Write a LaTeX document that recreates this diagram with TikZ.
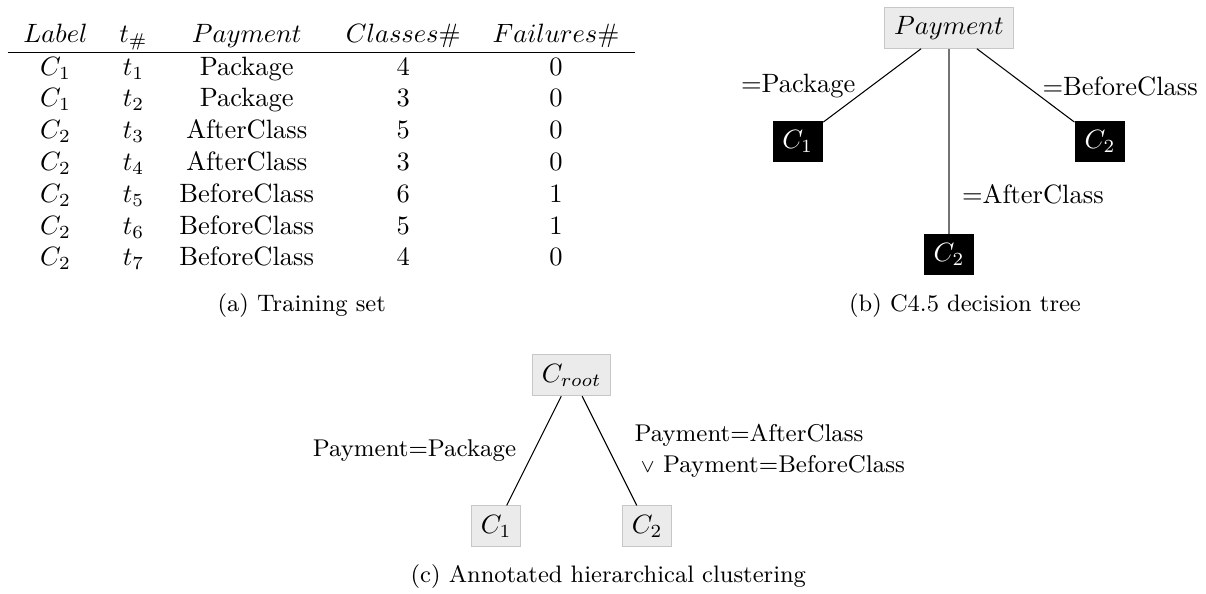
\documentclass[tikz,border=0pt]{standalone}
\begin{document}
\begin{tikzpicture}[x=0.377473pt, y=-0.377473pt,
  graybox/.style={fill=black!8, draw=black!22, line width=0.4pt, inner sep=0pt, minimum height=15.4pt},
  leaf/.style={fill=black, text=white, inner sep=0pt, minimum width=18.9pt, minimum height=15.4pt},
  lbl/.style={inner sep=0pt, anchor=base west},
  clbl/.style={inner sep=0pt, anchor=base west, font=\fontsize{9.15pt}{11pt}\selectfont},
  captext/.style={inner sep=0pt, anchor=base, font=\small},
  link/.style={draw=black, line width=0.4pt},
  vlink/.style={draw=black!55, line width=0.4pt}]
\useasboundingbox (0,0) rectangle (1206,594);

% (a) training set
\node[anchor=north west, inner sep=0pt] (table) at (7,19.45) {%
  \begin{tabular}{ccccc}
    $Label$ & $t_{\#}$ & $Payment$ & $Classes\#$ & $Failures\#$ \\ \hline
    $C_1$ & $t_1$ & Package & 4 & 0 \\
    $C_1$ & $t_2$ & Package & 3 & 0 \\
    $C_2$ & $t_3$ & AfterClass & 5 & 0 \\
    $C_2$ & $t_4$ & AfterClass & 3 & 0 \\
    $C_2$ & $t_5$ & BeforeClass & 6 & 1 \\
    $C_2$ & $t_6$ & BeforeClass & 5 & 1 \\
    $C_2$ & $t_7$ & BeforeClass & 4 & 0
  \end{tabular}};
\node[captext] (capa) at (301.7,311.7) {(a) Training set};

% (b) decision tree
\node[graybox, minimum width=48.4pt] (pay) at (949,27.8) {$Payment$};
\node[leaf] (b1) at (797.7,141.3) {$C_1$};
\node[leaf] (b2) at (949,254.5) {$C_2$};
\node[leaf] (b3) at (1100,141.3) {$C_2$};
\draw[link] (pay) -- (b1);
\draw[vlink] (pay) -- (b2);
\draw[link] (pay) -- (b3);
\node[lbl] (lpk) at (740.5,92.5) {=Package};
\node[lbl] (lbc) at (1042,96) {=BeforeClass};
\node[lbl] (lac) at (961.5,203.5) {=AfterClass};
\node[captext] (capb) at (965,311) {(b) C4.5 decision tree};

% (c) annotated hierarchical clustering
\node[graybox, minimum width=29.4pt] (root) at (571.7,375.3) {$C_{root}$};
\node[graybox, minimum width=18.5pt] (c1) at (496.2,526.3) {$C_1$};
\node[graybox, minimum width=18.5pt] (c2) at (647.2,526.3) {$C_2$};
\draw[link] (root) -- (c1);
\draw[link] (root) -- (c2);
\node[clbl, anchor=base east] (cpk) at (516.7,456) {Payment=Package};
\node[clbl] (cac) at (634,441) {Payment=AfterClass};
\node[clbl] (cbc) at (640,472) {{\scriptsize$\vee$} Payment=BeforeClass};
\node[captext] (capc) at (608.3,582.3) {(c) Annotated hierarchical clustering};
\end{tikzpicture}
\end{document}
